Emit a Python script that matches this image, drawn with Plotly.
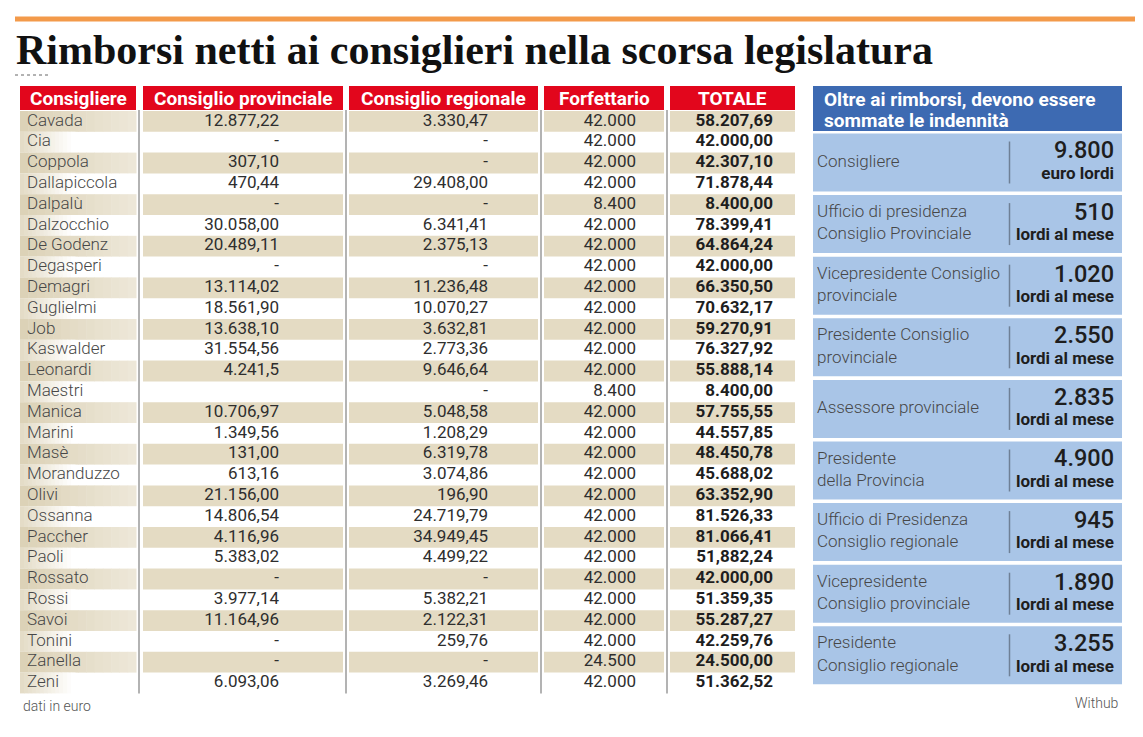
import plotly.graph_objects as go

# ---------------- data ----------------
headers = ["Consigliere", "Consiglio provinciale", "Consiglio regionale", "Forfettario", "TOTALE"]
names = ["Cavada", "Cia", "Coppola", "Dallapiccola", "Dalpalù", "Dalzocchio", "De Godenz",
         "Degasperi", "Demagri", "Guglielmi", "Job", "Kaswalder", "Leonardi", "Maestri",
         "Manica", "Marini", "Masè", "Moranduzzo", "Olivi", "Ossanna", "Paccher", "Paoli",
         "Rossato", "Rossi", "Savoi", "Tonini", "Zanella", "Zeni"]
consiglio_provinciale = ["12.877,22", "-", "307,10", "470,44", "-", "30.058,00", "20.489,11",
                         "-", "13.114,02", "18.561,90", "13.638,10", "31.554,56", "4.241,5", "",
                         "10.706,97", "1.349,56", "131,00", "613,16", "21.156,00", "14.806,54",
                         "4.116,96", "5.383,02", "-", "3.977,14", "11.164,96", "-", "-", "6.093,06"]
consiglio_regionale = ["3.330,47", "-", "-", "29.408,00", "-", "6.341,41", "2.375,13",
                       "-", "11.236,48", "10.070,27", "3.632,81", "2.773,36", "9.646,64", "-",
                       "5.048,58", "1.208,29", "6.319,78", "3.074,86", "196,90", "24.719,79",
                       "34.949,45", "4.499,22", "-", "5.382,21", "2.122,31", "259,76", "-", "3.269,46"]
forfettario = ["42.000", "42.000", "42.000", "42.000", "8.400", "42.000", "42.000",
               "42.000", "42.000", "42.000", "42.000", "42.000", "42.000", "8.400",
               "42.000", "42.000", "42.000", "42.000", "42.000", "42.000", "42.000", "42.000",
               "42.000", "42.000", "42.000", "42.000", "24.500", "42.000"]
totale = ["58.207,69", "42.000,00", "42.307,10", "71.878,44", "8.400,00", "78.399,41", "64.864,24",
          "42.000,00", "66.350,50", "70.632,17", "59.270,91", "76.327,92", "55.888,14", "8.400,00",
          "57.755,55", "44.557,85", "48.450,78", "45.688,02", "63.352,90", "81.526,33",
          "81.066,41", "51,882,24", "42.000,00", "51.359,35", "55.287,27", "42.259,76",
          "24.500,00", "51.362,52"]

side_title_lines = ["Oltre ai rimborsi, devono essere", "sommate le indennità"]
side_labels = ["Consigliere", "Ufficio di presidenza<br>Consiglio Provinciale",
               "Vicepresidente Consiglio<br>provinciale", "Presidente Consiglio<br>provinciale",
               "Assessore provinciale", "Presidente<br>della Provincia",
               "Ufficio di Presidenza<br>Consiglio regionale", "Vicepresidente<br>Consiglio provinciale",
               "Presidente<br>Consiglio regionale"]
side_values = ["9.800", "510", "1.020", "2.550", "2.835", "4.900", "945", "1.890", "3.255"]
side_units = ["euro lordi"] + ["lordi al mese"] * 8

title = "Rimborsi netti ai consiglieri nella scorsa legislatura"
note = "dati in euro"
source = "Withub"

# ---------------- styling / geometry ----------------
W, H = 1143, 737
PAGE_MARGIN = 8  # default body margin of the html page
RED = "#E2061C"
TAN = "#E4DBC3"
BLUE = "#3D6AB2"
LBLUE = "#A9C5E7"
ORANGE = "#F39A4A"
FONT = "Roboto"

col_boxes = [(20, 136), (143, 343), (349, 538), (544, 664), (670, 795)]
row_top0, row_h = 111.0, 20.8
header_y0, header_y1 = 86, 110
n = len(names)
row_tops = [row_top0 + row_h * i for i in range(n)]
row_mid = [t + row_h / 2 for t in row_tops]

shapes = []
shapes.append(dict(type="line", x0=15, x1=1135, y0=19, y1=19, line=dict(color=ORANGE, width=5)))
shapes.append(dict(type="line", x0=15, x1=50, y0=75, y1=75, line=dict(color="#666", width=1, dash="dot")))

for (a, b) in col_boxes:
    shapes.append(dict(type="rect", x0=a, x1=b, y0=header_y0, y1=header_y1, fillcolor=RED,
                       line=dict(width=0), layer="below"))


def mix(c1, c2, t):
    return "rgb(%d,%d,%d)" % tuple(round(c1[k] + (c2[k] - c1[k]) * t) for k in range(3))


tan_dark = (220, 210, 183)
tan_light = (237, 231, 216)
white = (255, 255, 255)
tan_mid = (228, 220, 199)

for i, t in enumerate(row_tops):
    a, b = col_boxes[0]
    steps = 14
    if i % 2 == 0:
        for s in range(steps):
            x0 = a + (b - a) * s / steps
            x1 = a + (b - a) * (s + 1) / steps + 0.5
            shapes.append(dict(type="rect", x0=x0, x1=x1, y0=t, y1=t + row_h,
                               fillcolor=mix(tan_dark, tan_light, s / (steps - 1)),
                               line=dict(width=0), layer="below"))
        for (a2, b2) in col_boxes[1:]:
            shapes.append(dict(type="rect", x0=a2, x1=b2, y0=t, y1=t + row_h, fillcolor=TAN,
                               line=dict(width=0), layer="below"))
    else:
        gw = 55
        for s in range(steps):
            x0 = a + gw * s / steps
            x1 = a + gw * (s + 1) / steps + 0.5
            shapes.append(dict(type="rect", x0=x0, x1=x1, y0=t, y1=t + row_h,
                               fillcolor=mix(tan_mid, white, s / (steps - 1)),
                               line=dict(width=0), layer="below"))

for x in [139, 346, 541, 667]:
    shapes.append(dict(type="line", x0=x, x1=x, y0=header_y1, y1=row_tops[-1] + row_h,
                       line=dict(color="#9A9A9A", width=1.5)))

shapes.append(dict(type="rect", x0=813, x1=1122, y0=86, y1=131, fillcolor=BLUE,
                   line=dict(width=0), layer="below"))
box_top0, box_step, box_h = 133.5, 61.6, 58
box_tops = [box_top0 + box_step * i for i in range(len(side_labels))]
for t in box_tops:
    shapes.append(dict(type="rect", x0=813, x1=1122, y0=t, y1=t + box_h, fillcolor=LBLUE,
                       line=dict(width=0), layer="below"))
    shapes.append(dict(type="line", x0=1009.5, x1=1009.5, y0=t + 8, y1=t + box_h - 8,
                       line=dict(color="#6F8096", width=1.5)))

fig = go.Figure()

fig.add_trace(go.Scatter(x=[27] * n, y=row_mid, text=names, mode="text", textposition="middle right",
                         textfont=dict(family=FONT, size=17, color="#474747", weight=300),
                         hoverinfo="skip", cliponaxis=False))
for col, xr in [(consiglio_provinciale, 279), (consiglio_regionale, 488), (forfettario, 636)]:
    fig.add_trace(go.Scatter(x=[xr] * n, y=row_mid, text=col, mode="text", textposition="middle left",
                             textfont=dict(family=FONT, size=17, color="#2E2E2E", weight=400),
                             hoverinfo="skip", cliponaxis=False))
fig.add_trace(go.Scatter(x=[773] * n, y=row_mid, text=totale, mode="text", textposition="middle left",
                         textfont=dict(family=FONT, size=17, color="#1E1E1E", weight=700),
                         hoverinfo="skip", cliponaxis=False))

box_mid = [t + box_h / 2 for t in box_tops]
fig.add_trace(go.Scatter(x=[817] * len(side_labels), y=box_mid, text=side_labels, mode="text",
                         textposition="middle right",
                         textfont=dict(family=FONT, size=17, color="#474747", weight=300),
                         hoverinfo="skip", cliponaxis=False))
fig.add_trace(go.Scatter(x=[1114] * len(side_values), y=[t + 19 for t in box_tops], text=side_values,
                         mode="text", textposition="middle left",
                         textfont=dict(family=FONT, size=23.5, color="#1E1E1E", weight=500),
                         hoverinfo="skip", cliponaxis=False))
fig.add_trace(go.Scatter(x=[1114] * len(side_units), y=[t + 41 for t in box_tops], text=side_units,
                         mode="text", textposition="middle left",
                         textfont=dict(family=FONT, size=17, color="#1E1E1E", weight=700),
                         hoverinfo="skip", cliponaxis=False))

annotations = []
annotations.append(dict(x=14, y=50, text=title, showarrow=False, xanchor="left", yanchor="middle",
                        font=dict(family="Liberation Serif", size=42, color="#111", weight=700)))
for (a, b), h in zip(col_boxes, headers):
    annotations.append(dict(x=(a + b) / 2, y=(header_y0 + header_y1) / 2 + 0.5, text=h, showarrow=False,
                            xanchor="center", yanchor="middle",
                            font=dict(family=FONT, size=19, color="white", weight=700)))
for k, line in enumerate(side_title_lines):
    annotations.append(dict(x=822, y=99.5 + 20.5 * k, text=line, showarrow=False, xanchor="left",
                            yanchor="middle", align="left",
                            font=dict(family=FONT, size=19, color="white", weight=700)))
annotations.append(dict(x=21, y=706, text=note, showarrow=False, xanchor="left", yanchor="middle",
                        font=dict(family=FONT, size=14, color="#555", weight=300)))
annotations.append(dict(x=1121, y=703, text=source, showarrow=False, xanchor="right", yanchor="middle",
                        font=dict(family=FONT, size=14, color="#555", weight=300)))

fig.update_layout(
    width=W - 2 * PAGE_MARGIN, height=H - 2 * PAGE_MARGIN, margin=dict(l=0, r=0, t=0, b=0),
    paper_bgcolor="white", plot_bgcolor="white", showlegend=False,
    xaxis=dict(range=[PAGE_MARGIN, W - PAGE_MARGIN], visible=False, fixedrange=True),
    yaxis=dict(range=[H - PAGE_MARGIN, PAGE_MARGIN], visible=False, fixedrange=True),
    shapes=shapes, annotations=annotations,
)
fig.write_html("out.html")
